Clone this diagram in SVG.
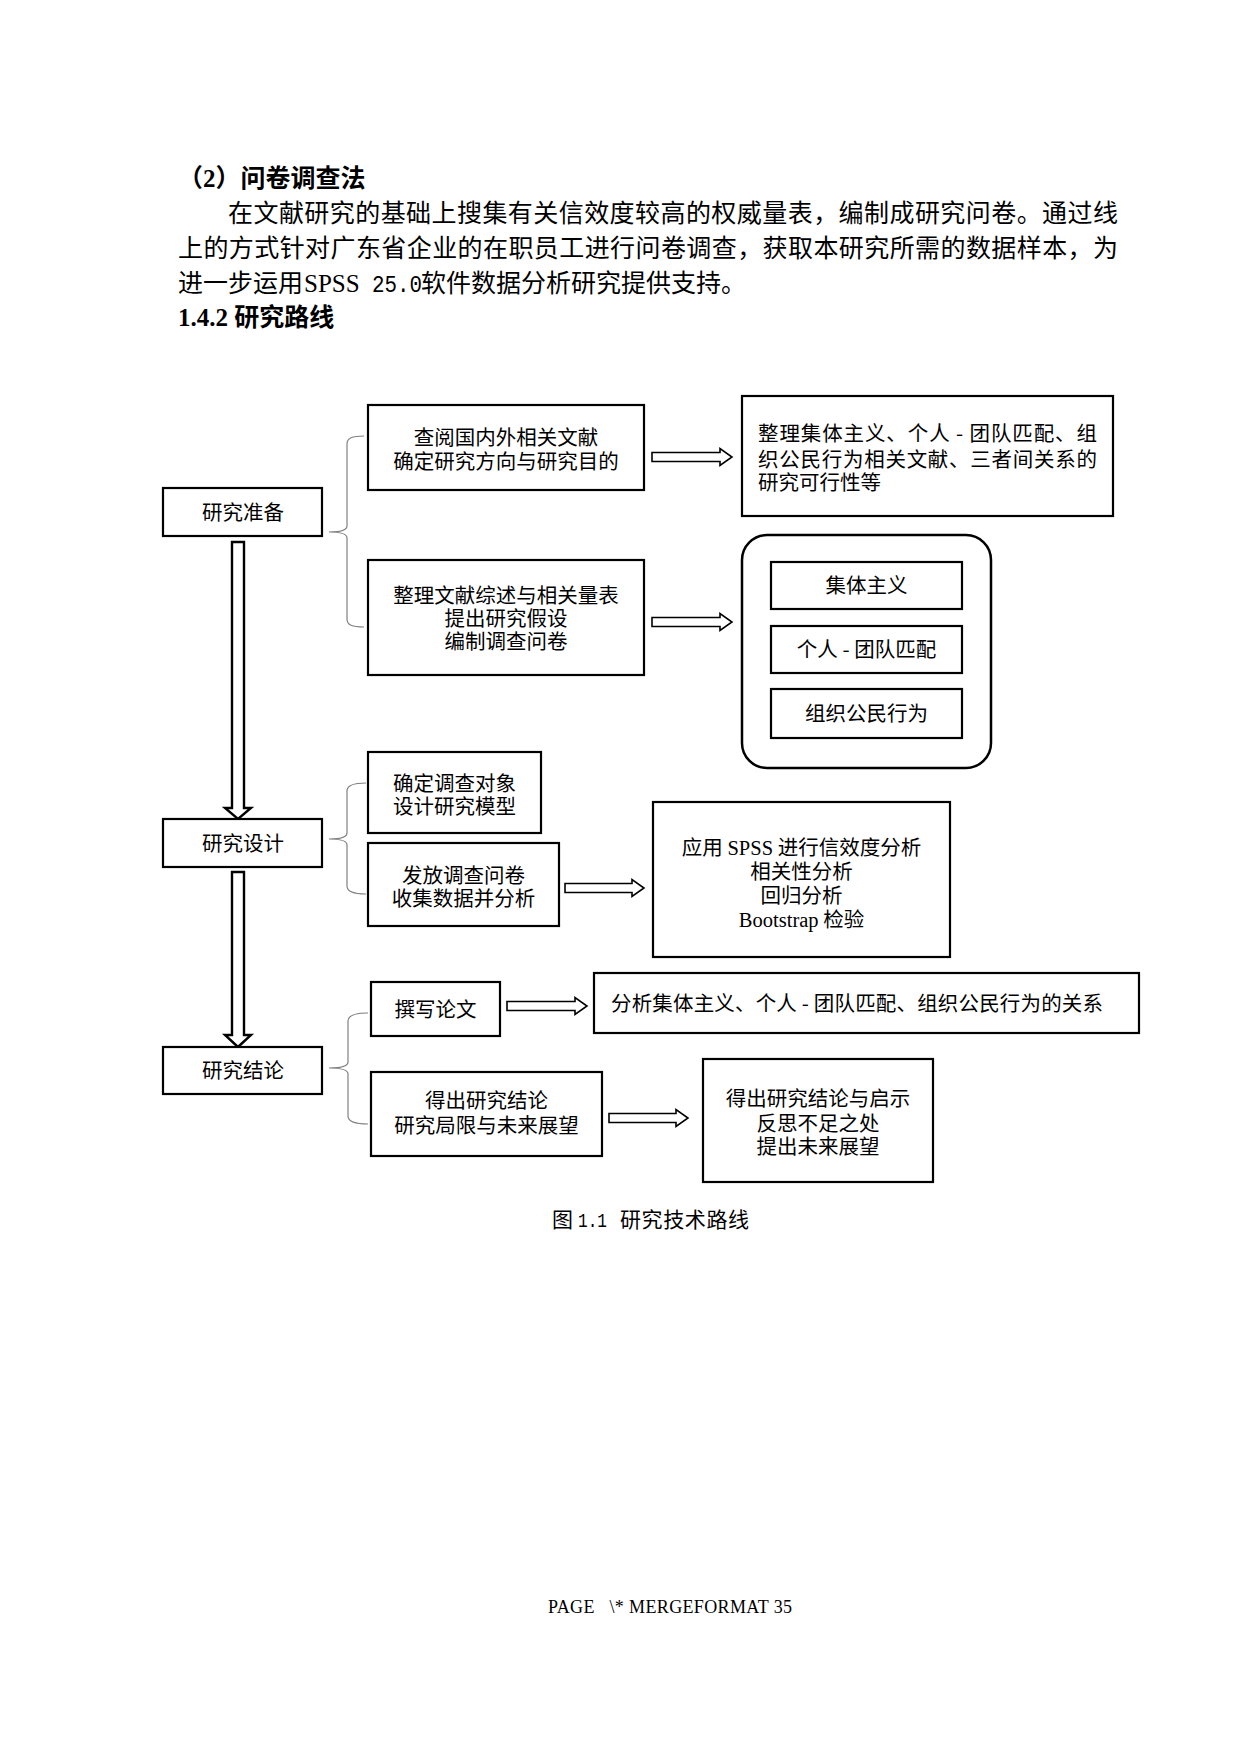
<svg xmlns="http://www.w3.org/2000/svg" width="1240" height="1754" viewBox="0 0 1240 1754">
<style>
.body{font-family:"Liberation Serif","Noto Sans CJK SC",serif;font-size:25px;fill:#000}
.hd{font-family:"Liberation Serif","Noto Sans CJK SC",sans-serif;font-size:25px;font-weight:bold;fill:#000}
.t{font-family:"Noto Sans CJK SC",sans-serif;font-size:20.5px;fill:#000}
.c{text-anchor:middle}
.lat{font-family:"Liberation Serif",serif}
.box{fill:#fff;stroke:#000;stroke-width:2.2}
.brace{fill:none;stroke:#808080;stroke-width:1.2}
.arr{fill:#fff;stroke:#000;stroke-width:1.6;stroke-linejoin:miter}
.varr{fill:#fff;stroke:#000;stroke-width:2.4;stroke-linejoin:miter}
</style>
<rect width="1240" height="1754" fill="#fff"/>

<g id="page-text">
<text class="hd" x="178" y="187">（2）问卷调查法</text>
<text class="body"><tspan x="228" y="222" textLength="890" lengthAdjust="spacing">在文献研究的基础上搜集有关信效度较高的权威量表，编制成研究问卷。通过线</tspan><tspan x="178" y="257" textLength="940" lengthAdjust="spacing">上的方式针对广东省企业的在职员工进行问卷调查，获取本研究所需的数据样本，为</tspan><tspan x="178" y="292">进一步运用</tspan><tspan x="304" y="292" font-family="Liberation Serif">SPSS</tspan><tspan x="372" y="292" font-family="Liberation Mono" font-size="23" textLength="50" lengthAdjust="spacingAndGlyphs">25.0</tspan><tspan x="421" y="292">软件数据分析研究提供支持。</tspan></text>
<text class="hd" x="178" y="326"><tspan font-family="Liberation Serif">1.4.2 </tspan>研究路线</text>
</g>

<g id="connectors">
<path class="brace" d="M364,436 C352,436 347,438 347,444 L347,526 C347,530 340,532 329,532 C340,532 347,534 347,538 L347,619 C347,625 352,627 364,627"/>
<path class="brace" d="M366,783 C354,783 347,785 347,791 L347,833 C347,837 340,839 329,839 C340,839 347,841 347,845 L347,886 C347,892 354,894 366,894"/>
<path class="brace" d="M368,1013 C356,1013 348,1015 348,1021 L348,1062 C348,1066 340,1068 329,1068 C340,1068 348,1070 348,1074 L348,1116 C348,1122 356,1124 368,1124"/>
<polygon class="varr" points="232,542 244,542 244,808 251,808 238,819 225,808 232,808"/>
<polygon class="varr" points="232,872 244,872 244,1035 251,1035 238,1047 225,1035 232,1035"/>
<polygon class="arr" points="652,452.5 720,452.5 720,448.5 732,457 720,465.5 720,461.5 652,461.5"/>
<polygon class="arr" points="652,617.5 720,617.5 720,613.5 732,622 720,630.5 720,626.5 652,626.5"/>
<polygon class="arr" points="565,883.5 632,883.5 632,879.5 644,888 632,896.5 632,892.5 565,892.5"/>
<polygon class="arr" points="507,1001.5 575,1001.5 575,997.5 587,1006 575,1014.5 575,1010.5 507,1010.5"/>
<polygon class="arr" points="609,1113.5 676,1113.5 676,1109.5 688,1118 676,1126.5 676,1122.5 609,1122.5"/>
</g>

<g id="n-prep">
<rect class="box" x="163" y="488" width="159" height="48"/>
<text class="t c" x="243" y="520">研究准备</text>
</g>
<g id="n-design">
<rect class="box" x="163" y="819" width="159" height="48"/>
<text class="t c" x="243" y="851">研究设计</text>
</g>
<g id="n-concl">
<rect class="box" x="163" y="1047" width="159" height="47"/>
<text class="t c" x="243" y="1078">研究结论</text>
</g>

<g id="n-review">
<rect class="box" x="368" y="405" width="276" height="85"/>
<text class="t c"><tspan x="506" y="445">查阅国内外相关文献</tspan><tspan x="506" y="469">确定研究方向与研究目的</tspan></text>
</g>
<g id="n-organize">
<rect class="box" x="368" y="560" width="276" height="115"/>
<text class="t c"><tspan x="506" y="603">整理文献综述与相关量表</tspan><tspan x="506" y="626">提出研究假设</tspan><tspan x="506" y="649">编制调查问卷</tspan></text>
</g>
<g id="n-sort">
<rect class="box" x="742" y="396" width="371" height="120"/>
<text class="t"><tspan x="758" y="441" textLength="339" lengthAdjust="spacing">整理集体主义、个人 - 团队匹配、组</tspan><tspan x="758" y="467" textLength="339" lengthAdjust="spacing">织公民行为相关文献、三者间关系的</tspan><tspan x="758" y="490">研究可行性等</tspan></text>
</g>
<g id="n-vars">
<rect class="box" x="742" y="535" width="249" height="233" rx="25" ry="25" style="stroke-width:2.5"/>
<rect class="box" x="771" y="562" width="191" height="47"/>
<text class="t c" x="866.5" y="593">集体主义</text>
<rect class="box" x="771" y="626" width="191" height="47"/>
<text class="t c" x="866.5" y="657">个人 - 团队匹配</text>
<rect class="box" x="771" y="689" width="191" height="49"/>
<text class="t c" x="866.5" y="721">组织公民行为</text>
</g>

<g id="n-target">
<rect class="box" x="368" y="752" width="173" height="81"/>
<text class="t c"><tspan x="454.5" y="791">确定调查对象</tspan><tspan x="454.5" y="814">设计研究模型</tspan></text>
</g>
<g id="n-issue">
<rect class="box" x="368" y="843" width="191" height="83"/>
<text class="t c"><tspan x="463.5" y="883">发放调查问卷</tspan><tspan x="463.5" y="906">收集数据并分析</tspan></text>
</g>
<g id="n-spss">
<rect class="box" x="653" y="802" width="297" height="155"/>
<text class="t c"><tspan x="801.5" y="855">应用 <tspan class="lat">SPSS</tspan> 进行信效度分析</tspan><tspan x="801.5" y="879">相关性分析</tspan><tspan x="801.5" y="903">回归分析</tspan><tspan x="801.5" y="927"><tspan class="lat">Bootstrap</tspan> 检验</tspan></text>
</g>

<g id="n-write">
<rect class="box" x="371" y="982" width="129" height="54"/>
<text class="t c" x="435.5" y="1017">撰写论文</text>
</g>
<g id="n-analyze">
<rect class="box" x="594" y="973" width="545" height="60"/>
<text class="t" x="611" y="1011" textLength="492" lengthAdjust="spacing">分析集体主义、个人 - 团队匹配、组织公民行为的关系</text>
</g>
<g id="n-result">
<rect class="box" x="371" y="1072" width="231" height="84"/>
<text class="t c"><tspan x="486.5" y="1108">得出研究结论</tspan><tspan x="486.5" y="1133">研究局限与未来展望</tspan></text>
</g>
<g id="n-final">
<rect class="box" x="703" y="1059" width="230" height="123"/>
<text class="t c"><tspan x="818" y="1106">得出研究结论与启示</tspan><tspan x="818" y="1131">反思不足之处</tspan><tspan x="818" y="1154">提出未来展望</tspan></text>
</g>

<g id="caption">
<text class="body" y="1227" style="font-size:21px"><tspan x="552">图</tspan><tspan x="578" font-family="Liberation Mono" textLength="29" lengthAdjust="spacingAndGlyphs">1.1</tspan><tspan x="620" textLength="129" lengthAdjust="spacing">研究技术路线</tspan></text>
</g>
<g id="footer">
<text class="body" x="548" y="1613" style="font-size:18px;white-space:pre" xml:space="preserve" textLength="244" lengthAdjust="spacing">PAGE   \* MERGEFORMAT 35</text>
</g>
</svg>
